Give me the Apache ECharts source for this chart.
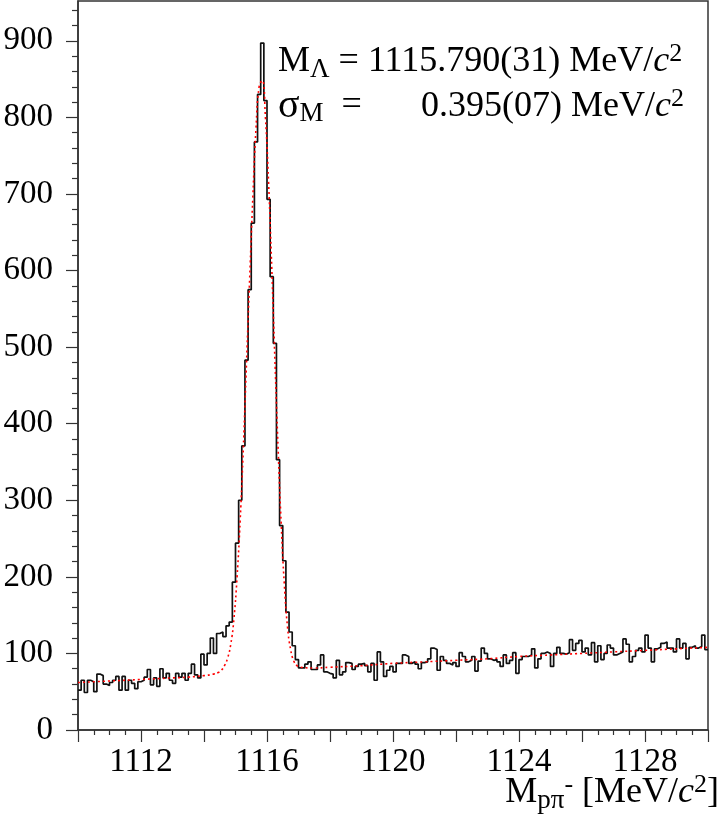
<!DOCTYPE html>
<html>
<head>
<meta charset="utf-8">
<script src="https://cdn.jsdelivr.net/npm/echarts@6/dist/echarts.min.js"></script>
<style>
  html, body { margin: 0; padding: 0; background: #fff; }
  #chart { width: 722px; height: 832px; }
</style>
</head>
<body>
<div id="chart"></div>
<script>
// histogram: 200 bins of 0.1 MeV from 1110 to 1130
var binStart = 1110
var binWidth = 0.1
var counts = [
  52, 65, 49, 65, 63, 50, 73, 71, 60, 58, 62, 65, 70, 52, 70, 52, 65, 61, 54, 63,
  65, 69, 79, 59, 68, 57, 80, 68, 74, 65, 61, 74, 69, 74, 65, 74, 86, 72, 68, 99,
  85, 100, 120, 100, 126, 128, 122, 136, 141, 193,
  244, 300, 371, 483, 575, 662, 768, 830, 897, 822, 693, 592, 505, 353, 267, 221, 154, 128, 110, 92,
  81, 81, 86, 89, 79, 79, 85, 98, 76, 74, 73, 68, 91, 72, 76, 88, 87, 79, 83, 86,
  87, 84, 76, 87, 65, 102, 89, 70, 78, 83, 76, 87, 87, 98, 96, 87, 89, 86, 80, 88,
  89, 93, 107, 105,
  78, 96, 91, 87, 85, 88, 83, 101, 96, 89, 91, 96, 77, 90, 107, 100, 93, 91, 92, 89,
  83, 98, 87, 91, 101, 74, 92, 96, 96, 98, 106, 81, 93, 100, 102, 100, 83, 100, 108, 100,
  99, 101, 118, 104,
  113, 117, 102, 107, 98, 114, 89, 110, 92, 100, 111, 107, 98, 100, 102, 119, 112, 89, 96, 104,
  107, 102, 124, 107, 89, 106, 108, 113, 115, 107, 107, 102, 119, 107, 113, 93, 108, 110, 107, 109,
  124, 105
]

// fit curve (red dotted)
var fitX = [1110, 1111, 1112, 1113, 1113.5, 1114, 1114.3, 1114.45, 1114.55, 1114.65, 1114.75, 1114.85, 1114.95,
  1115.05, 1115.15, 1115.25, 1115.35, 1115.45, 1115.55, 1115.65, 1115.75, 1115.85, 1115.95,
  1116.05, 1116.15, 1116.25, 1116.35, 1116.45, 1116.55, 1116.65, 1116.75, 1116.85, 1116.95, 1117.05,
  1117.5, 1118, 1119, 1120, 1121, 1122, 1123, 1124, 1125, 1126, 1127, 1128, 1129, 1130]
var fitY = [62, 64, 66, 68, 69, 71, 73, 75, 78, 84, 94, 112, 145,
  200, 275, 370, 480, 590, 695, 785, 840, 848, 800,
  715, 605, 485, 370, 270, 190, 135, 105, 90, 84, 82,
  81, 82, 84, 87, 89, 91, 93, 96, 98, 100, 102, 104, 106, 108]

var xLabels = [1112, 1116, 1120, 1124, 1128]
var yMajorTicks = [0, 100, 200, 300, 400, 500, 600, 700, 800, 900]
var yMinorTicks = [20, 40, 60, 80, 120, 140, 160, 180, 220, 240, 260, 280, 320, 340, 360, 380,
  420, 440, 460, 480, 520, 540, 560, 580, 620, 640, 660, 680, 720, 740, 760, 780,
  820, 840, 860, 880, 920, 940]

var histPoints = []
for (var i = 0; i < counts.length; i++) {
  histPoints.push([binStart + i * binWidth, counts[i]])
}
histPoints.push([binStart + counts.length * binWidth, counts[counts.length - 1]])

var fitPoints = fitX.map(function (x, i) { return [x, fitY[i]] })

var serif = 'Liberation Serif'
var axisColor = '#333'
var rich = {
  m: { fontSize: 36, fontFamily: serif, lineHeight: 42, color: '#000' },
  g: { fontSize: 40, fontFamily: serif, lineHeight: 42, color: '#000' },
  it: { fontSize: 36, fontFamily: serif, fontStyle: 'italic', lineHeight: 42, color: '#000' },
  sub: { fontSize: 27, fontFamily: serif, lineHeight: 20, verticalAlign: 'bottom', color: '#000' },
  sup: { fontSize: 26, fontFamily: serif, lineHeight: 20, verticalAlign: 'top', color: '#000' }
}

var chart = echarts.init(document.getElementById('chart'))
var option = {
  animation: false,
  backgroundColor: '#fff',
  grid: {
    left: 78, right: 14, top: 1, bottom: 102,
    show: true, borderColor: axisColor, borderWidth: 1.5,
    containLabel: false, outerBoundsMode: 'none'
  },
  xAxis: {
    type: 'value',
    min: 1110,
    max: 1130,
    interval: 2,
    axisLine: { lineStyle: { color: axisColor, width: 1.5 } },
    axisTick: { length: 12, lineStyle: { color: axisColor, width: 1.2 } },
    minorTick: { show: true, splitNumber: 4, length: 5, lineStyle: { color: axisColor, width: 1.2 } },
    splitLine: { show: false },
    axisLabel: {
      margin: 16,
      fontSize: 33,
      fontFamily: serif,
      color: '#000',
      formatter: function (v) { return xLabels.indexOf(v) >= 0 ? String(v) : '' }
    }
  },
  yAxis: [
    {
      type: 'value',
      min: 0,
      max: 952,
      axisLine: { show: true, lineStyle: { color: axisColor, width: 1.5 } },
      axisTick: { show: true, length: 12, customValues: yMajorTicks, lineStyle: { color: axisColor, width: 1.2 } },
      splitLine: { show: false },
      axisLabel: { customValues: yMajorTicks, margin: 25, fontSize: 33, fontFamily: serif, color: '#000' }
    },
    {
      type: 'value',
      position: 'left',
      min: 0,
      max: 952,
      axisLine: { show: false },
      axisTick: { show: true, length: 6, customValues: yMinorTicks, lineStyle: { color: axisColor, width: 1.2 } },
      splitLine: { show: false },
      axisLabel: { show: false }
    }
  ],
  series: [
    {
      name: 'data',
      type: 'line',
      step: 'end',
      symbol: 'none',
      data: histPoints,
      lineStyle: { color: '#111', width: 1.7 }
    },
    {
      name: 'fit',
      type: 'line',
      smooth: true,
      symbol: 'none',
      data: fitPoints,
      lineStyle: { color: '#f00', width: 1.6, type: [2, 3] },
      z: 3
    }
  ],
  graphic: {
    elements: [
      {
        type: 'text', left: 278, top: 41,
        style: { text: '{m|M}{sub|Λ}{m| = 1115.790(31) MeV/}{it|c}{sup|2}', rich: rich }
      },
      {
        type: 'text', left: 278, top: 86,
        style: { text: '{g|σ}{sub|M}{m|  =}', rich: rich }
      },
      {
        type: 'text', right: 38, top: 86,
        style: { text: '{m|0.395(07) MeV/}{it|c}{sup|2}', rich: rich }
      },
      {
        type: 'text', right: 3, top: 772,
        style: { text: '{m|M}{sub|pπ}{sup|-}{m| [MeV/}{it|c}{sup|2}{m|]}', rich: rich }
      }
    ]
  }
}
chart.setOption(option)
</script>
</body>
</html>
